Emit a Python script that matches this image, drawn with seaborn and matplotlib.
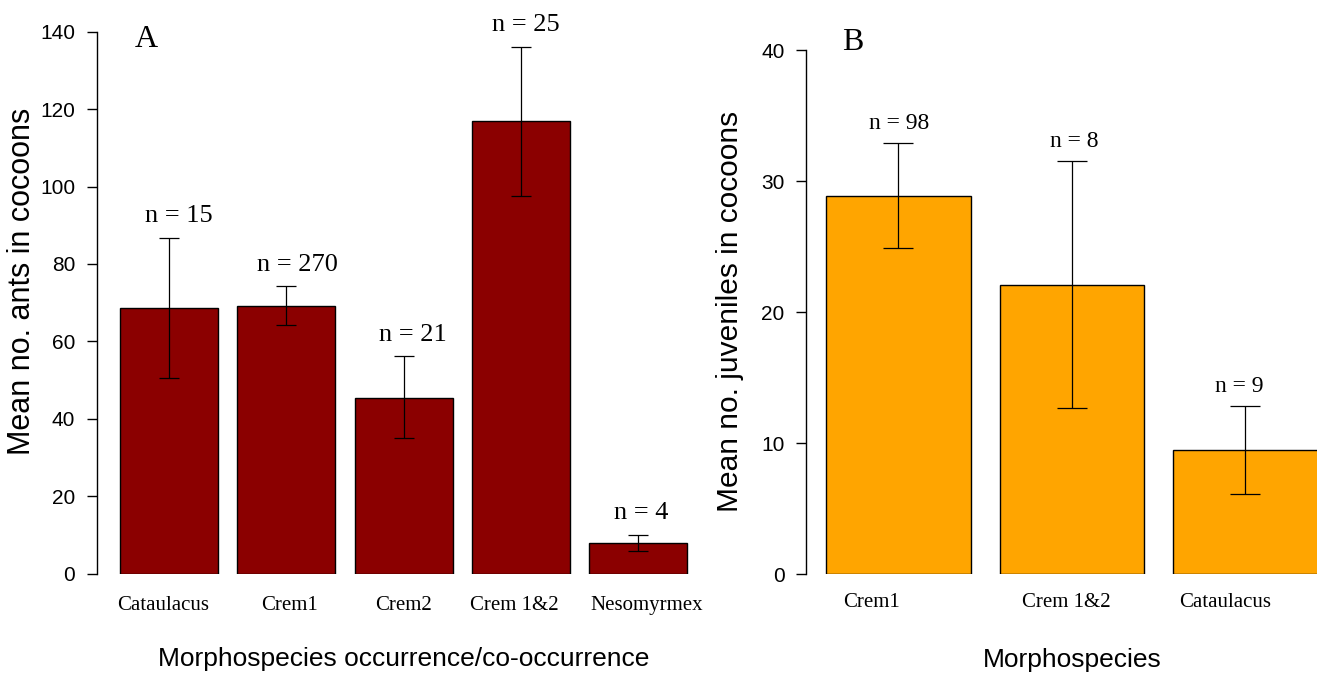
import matplotlib
matplotlib.use("Agg")
import matplotlib.pyplot as plt
import matplotlib.transforms as mtrans
import seaborn as sns

# panel A: ants per cocoon, by morphospecies occurrence
ants_species = ["Cataulacus", "Crem1", "Crem2", "Crem 1&2", "Nesomyrmex"]
ants_mean = [68.5, 69.2, 45.4, 116.9, 8.0]
ants_lower = [50.4, 64.2, 35.1, 97.6, 5.7]
ants_upper = [86.8, 74.2, 56.1, 136.0, 10.0]
ants_n = [15, 270, 21, 25, 4]

# panel B: juveniles per cocoon
juv_species = ["Crem1", "Crem 1&2", "Cataulacus"]
juv_mean = [28.85, 22.1, 9.45]
juv_lower = [24.9, 12.7, 6.1]
juv_upper = [32.9, 31.5, 12.8]
juv_n = [98, 8, 9]

sns.set_style("ticks")
plt.rcParams["font.family"] = ["Liberation Sans", "DejaVu Sans"]
for key in ["text.color", "axes.labelcolor", "xtick.color", "ytick.color", "axes.edgecolor"]:
    plt.rcParams[key] = "black"

SANS = "Liberation Sans"
SERIF = "Liberation Serif"
DPI = 100
W, H = 1317, 677

fig = plt.figure(figsize=(W / DPI, H / DPI), dpi=DPI)


def axes_px(left, right, bottom, top):
    # pixel box -> figure fraction
    return fig.add_axes([left / W, (H - bottom) / H, (right - left) / W, (bottom - top) / H])


def draw_panel(ax, species, mean, lower, upper, n, color, ymax, ystep, xlim,
               capsize, n_size, n_off, n_dx, lab_dx, lab_pad):
    sns.barplot(x=species, y=mean, color=color, saturation=1, edgecolor="black",
                linewidth=1.0, width=1 / 1.2, errorbar=None, ax=ax)
    pos = list(range(len(species)))
    yerr = [[m - lo for m, lo in zip(mean, lower)], [up - m for m, up in zip(mean, upper)]]
    ax.errorbar(pos, mean, yerr=yerr, fmt="none", ecolor="black", elinewidth=0.9,
                capsize=capsize, capthick=0.9)
    for x, up, k, dx in zip(pos, upper, n, n_dx):
        ax.annotate(f"n = {k}", (x, up), xytext=(dx, n_off), textcoords="offset points",
                    ha="center", va="baseline", fontsize=n_size, family=SERIF,
                    annotation_clip=False)
    ax.set_xlim(*xlim)
    ax.set_ylim(0, ymax)
    ax.set_yticks(range(0, ymax + 1, ystep))
    sns.despine(ax=ax, bottom=True)
    ax.spines["left"].set_linewidth(1.0)
    ax.tick_params(axis="y", direction="out", length=7.2, width=1.0, pad=8.6,
                   labelsize=15)
    ax.tick_params(axis="x", length=0, labelsize=15, pad=lab_pad)
    for lbl in ax.get_yticklabels():
        lbl.set_family(SANS)
    for lbl, dx in zip(ax.get_xticklabels(), lab_dx):
        lbl.set_family(SERIF)
        lbl.set_transform(lbl.get_transform() + mtrans.ScaledTranslation(dx / DPI, 0, fig.dpi_scale_trans))
    ax.set_xlabel("")
    ax.set_ylabel("")


ax1 = axes_px(97.3, 710, 573.5, 31.7)
draw_panel(ax1, ants_species, ants_mean, ants_lower, ants_upper, ants_n, "#8B0000",
           140, 20, (-0.61, 4.61), 7.2, 19, 11.4, [6.9, 8.3, 6.8, 3.6, 2.2],
           [-6, 3, 0, -7, 8], 16.5)
ax1.set_xlabel("Morphospecies occurrence/co-occurrence", fontsize=19, family=SANS)
ax1.xaxis.set_label_coords(0.5, -0.158)
ax1.xaxis.label.set_va("center")
ax1.set_ylabel("Mean no. ants in cocoons", fontsize=22, family=SANS)
ax1.yaxis.set_label_coords(-0.1234, 0.54)
ax1.yaxis.label.set_va("center")
ax1.text(0.0803, 0.985, "A", transform=ax1.transAxes, ha="center", va="center",
         fontsize=23, family=SERIF)

ax2 = axes_px(806.4, 1337.4, 574, 50.1)
draw_panel(ax2, juv_species, juv_mean, juv_lower, juv_upper, juv_n, "#FFA500",
           40, 10, (-0.53, 2.53), 10.8, 17, 10.5, [0.4, 1.4, -4.7],
           [-27, -5.5, -20], 13.7)
ax2.set_xlabel("Morphospecies", fontsize=19, family=SANS)
ax2.xaxis.set_label_coords(0.5, -0.164)
ax2.xaxis.label.set_va("center")
ax2.set_ylabel("Mean no. juveniles in cocoons", fontsize=21.5, family=SANS)
ax2.yaxis.set_label_coords(-0.143, 0.502)
ax2.yaxis.label.set_va("center")
ax2.text(0.0878, 1.014, "B", transform=ax2.transAxes, ha="center", va="center",
         fontsize=23, family=SERIF)

fig.savefig("out.png", dpi=DPI)
